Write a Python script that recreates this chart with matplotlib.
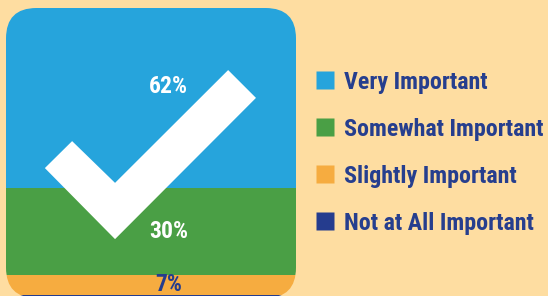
import matplotlib
matplotlib.use("Agg")
import matplotlib.pyplot as plt
from matplotlib import font_manager
from matplotlib.patches import FancyBboxPatch, Polygon
from matplotlib.lines import Line2D
import numpy as np

categories = ["Very Important", "Somewhat Important", "Slightly Important", "Not at All Important"]
shares     = [62, 30, 7, 1]
labels     = ["62%", "30%", "7%", ""]
colors     = ["#26A4DC", "#4A9F45", "#F6AC40", "#253C8E"]
label_cols = ["white", "white", "#253C8E", "white"]

BG   = "#FEDDA1"
NAVY = "#263E8E"


def pick_font():
    for name in ["Liberation Sans Narrow", "DejaVu Sans Condensed", "Roboto Condensed"]:
        try:
            font_manager.findfont(name, fallback_to_default=False)
            return name
        except Exception:
            pass
    return "DejaVu Sans"


FONT = pick_font()
plt.rcParams["font.family"] = [FONT, "DejaVu Sans"]

W, H = 548, 296
fig = plt.figure(figsize=(W / 100, H / 100), dpi=100, facecolor=BG)

# square panel: 290 px, top-left at (6, 8) px
x0, y0, side = 6, 8, 290
ax = fig.add_axes([x0 / W, 1 - (y0 + side) / H, side / W, side / H])
ax.set_xlim(-0.5, 0.5)
ax.set_ylim(100, 0)
ax.axis("off")

clip = FancyBboxPatch((0, 0), 1, 1, boxstyle="round,pad=0,rounding_size=0.105",
                      transform=ax.transAxes, facecolor="none", edgecolor="none")
ax.add_patch(clip)

bottoms = np.concatenate([[0], np.cumsum(shares)[:-1]])
bars = ax.bar(0, shares, bottom=bottoms, width=1.0, color=colors, linewidth=0)
for b in bars:
    b.set_clip_path(clip)

# check mark
check = Polygon([(0.134, 0.448), (0.228, 0.541), (0.376, 0.397), (0.766, 0.786),
                 (0.862, 0.690), (0.376, 0.203)],
                closed=True, transform=ax.transAxes, facecolor="white", edgecolor="none", zorder=3)
ax.add_patch(check)

offsets = [-4, 0, 0, 0]
for lab, b, v, c, off in zip(labels, bottoms, shares, label_cols, offsets):
    if lab:
        ax.text(0.06, b + v / 2 + off, lab, ha="center", va="center", color=c,
                fontsize=17, fontweight="bold", zorder=4)

handles = [Line2D([], [], marker="s", linestyle="none", markersize=12.3,
                  markerfacecolor=c, markeredgecolor="none") for c in colors]
leg = fig.legend(handles, categories, loc="upper left", bbox_to_anchor=(306 / W, 1 - 61 / H),
                 frameon=False, handlelength=0.75, handletextpad=0.45, labelspacing=1.0,
                 prop={"size": 17.3, "weight": "bold"}, borderaxespad=0)
for t in leg.get_texts():
    t.set_color(NAVY)

fig.savefig("out.png", dpi=100, facecolor=BG)
